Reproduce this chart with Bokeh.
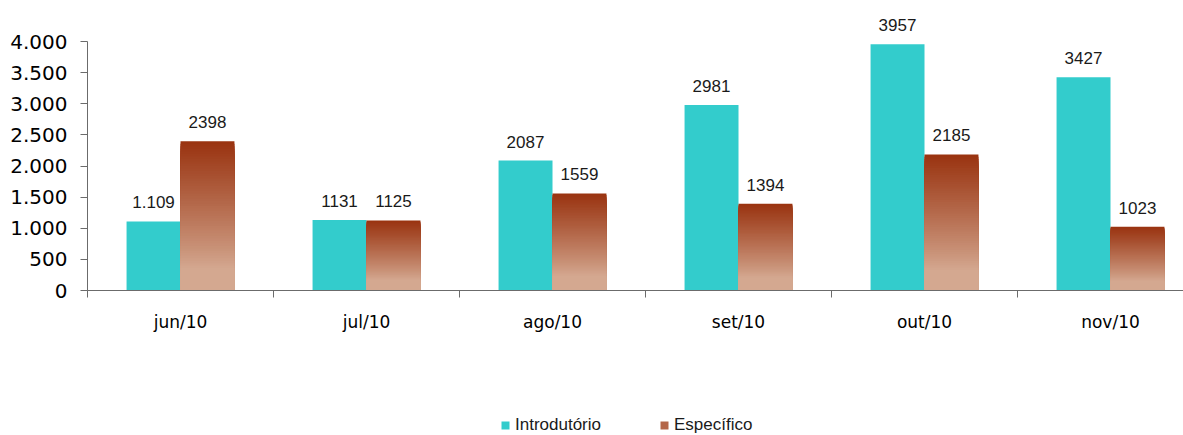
from bokeh.plotting import figure
from bokeh.layouts import column
from bokeh.models import (ColumnDataSource, FixedTicker, LabelSet, Legend, LegendItem)
from bokeh.core.properties import value
from bokeh.embed import file_html
from bokeh.resources import INLINE

# Monthly counts per course type
months = ["jun/10", "jul/10", "ago/10", "set/10", "out/10", "nov/10"]
introdutorio = [1109, 1131, 2087, 2981, 3957, 3427]
especifico = [2398, 1125, 1559, 1394, 2185, 1023]
introdutorio_labels = ["1.109", "1131", "2087", "2981", "3957", "3427"]
especifico_labels = ["2398", "1125", "1559", "1394", "2185", "1023"]
y_ticks = [0, 500, 1000, 1500, 2000, 2500, 3000, 3500, 4000]

CYAN = "#33CCCC"
DARK = (0x99, 0x33, 0x10)
LIGHT = (0xD4, 0xA8, 0x90)
AXIS = "#6b6b6b"
BAR_W = 0.29
N_STRIPS = 60

centers = [i + 0.5 for i in range(len(months))]

# frame spans 280 px; the value axis is drawn only from 0 to 4000,
# leaving headroom above it for the value labels
y_top = 4000 + 31 / (249 / 4000)

p = figure(width=1183, height=350, x_range=(0, 1096 / 186), y_range=(0, y_top),
           output_backend="svg", toolbar_location=None,
           min_border_left=87, min_border_right=0, min_border_top=10, min_border_bottom=60)
p.outline_line_color = None
p.xgrid.visible = False
p.ygrid.visible = False
p.background_fill_color = "white"
p.border_fill_color = "white"

# Introdutório bars (left of each category centre)
cyan_src = ColumnDataSource(dict(
    left=[c - BAR_W for c in centers], right=centers,
    top=introdutorio, bottom=[0] * len(months),
    lx=[c - BAR_W / 2 for c in centers], label=introdutorio_labels))
p.quad(left="left", right="right", top="top", bottom="bottom", source=cyan_src,
       fill_color=CYAN, line_color=None)


def shade(t):
    # t = 0 at the base of the bar, 1 at its top
    s = min(max((t - 0.15) / 0.85, 0.0), 1.0) ** 0.9
    rgb = [round(LIGHT[k] + (DARK[k] - LIGHT[k]) * s) for k in range(3)]
    return "#%02x%02x%02x" % tuple(rgb)


# Específico bars: vertical gradient built from nested boxes sharing the base,
# tallest (darkest) first so each lower band paints over the one before
sl, sr, sb, st, sc = [], [], [], [], []
for i in reversed(range(N_STRIPS)):
    for c, v in zip(centers, especifico):
        sl.append(c)
        sr.append(c + BAR_W)
        sb.append(0)
        st.append(v * (i + 1) / N_STRIPS)
        sc.append(shade((i + 0.5) / N_STRIPS))
grad_src = ColumnDataSource(dict(left=sl, right=sr, bottom=sb, top=st, color=sc))
p.quad(left="left", right="right", top="top", bottom="bottom", source=grad_src,
       fill_color="color", line_color=None)

esp_src = ColumnDataSource(dict(
    lx=[c + BAR_W / 2 for c in centers], top=especifico, label=especifico_labels))

for src in (cyan_src, esp_src):
    p.add_layout(LabelSet(x="lx", y="top", text="label", source=src,
                          text_align="center", text_baseline="alphabetic", y_offset=13,
                          text_font=value("Liberation Sans"), text_font_size="17px",
                          text_color="#1a1a1a"))

# Y axis, drawn from 0 to 4000 only
p.yaxis.bounds = (0, 4000)
p.yaxis.ticker = FixedTicker(ticks=y_ticks)
p.yaxis.major_label_overrides = {v: f"{v:,}".replace(",", ".") for v in y_ticks}
p.yaxis.major_label_text_font = "DejaVu Sans"
p.yaxis.major_label_text_font_size = "20px"
p.yaxis.major_label_text_color = "black"
p.yaxis.major_tick_out = 7
p.yaxis.major_tick_in = 0
p.yaxis.minor_tick_line_color = None
p.yaxis.major_label_standoff = 13
p.yaxis.axis_line_color = AXIS
p.yaxis.major_tick_line_color = AXIS

# X axis: labels at category centres, tick marks at category boundaries
p.xaxis.ticker = FixedTicker(ticks=centers, minor_ticks=list(range(len(months) + 1)))
p.xaxis.major_label_overrides = {c: m for c, m in zip(centers, months)}
p.xaxis.major_label_text_font = "DejaVu Sans"
p.xaxis.major_label_text_font_size = "17px"
p.xaxis.major_label_text_color = "black"
p.xaxis.major_tick_line_color = None
p.xaxis.major_tick_out = 0
p.xaxis.major_tick_in = 0
p.xaxis.major_label_standoff = 14
p.xaxis.minor_tick_out = 7
p.xaxis.minor_tick_in = 0
p.xaxis.minor_tick_line_color = AXIS
p.xaxis.axis_line_color = AXIS

# Legend strip underneath the chart; its key boxes sit outside the visible range
leg = figure(width=1183, height=85, x_range=(0, 1), y_range=(0, 1),
             output_backend="svg", toolbar_location=None,
             min_border_left=0, min_border_right=0, min_border_top=0, min_border_bottom=0)
leg.axis.visible = False
leg.xgrid.visible = False
leg.ygrid.visible = False
leg.outline_line_color = None
offscreen = dict(left=[-3], right=[-2], top=[-2], bottom=[-3])
key_intro = leg.quad(left="left", right="right", top="top", bottom="bottom",
                     source=ColumnDataSource(offscreen), fill_color=CYAN, line_color=None)
key_esp = leg.quad(left="left", right="right", top="top", bottom="bottom",
                   source=ColumnDataSource(offscreen), fill_color=shade(0.6), line_color=None)
legend = Legend(items=[
    LegendItem(label="Introdutório", renderers=[key_intro]),
    LegendItem(label="Específico", renderers=[key_esp]),
], location=(413, 0), orientation="horizontal",
    glyph_width=10, glyph_height=10, label_standoff=5, spacing=58,
    padding=0, margin=0, border_line_color=None, background_fill_alpha=0,
    label_text_font="Liberation Sans", label_text_font_size="17px",
    label_text_color="#1a1a1a")
leg.add_layout(legend, "center")

open("out.html", "w").write(file_html(column(p, leg, spacing=0), INLINE))
